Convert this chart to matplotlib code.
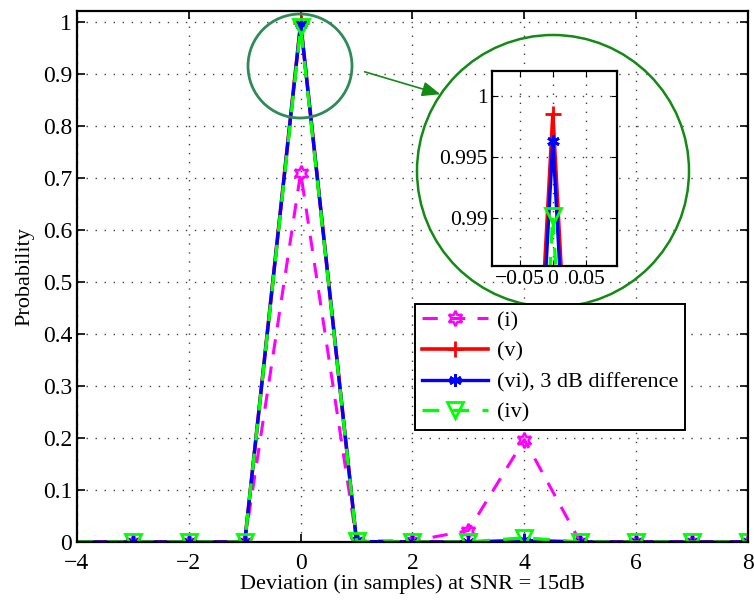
import matplotlib
matplotlib.use("Agg")
import matplotlib.pyplot as plt
from matplotlib.patches import Circle, FancyArrowPatch

plt.rcParams['font.family'] = ['Liberation Serif', 'DejaVu Serif']
plt.rcParams['mathtext.fontset'] = 'stix'

x = [-4, -3, -2, -1, 0, 1, 2, 3, 4, 5, 6, 7, 8]
p_i = [0, 0, 0, 0, 0.710, 0.002, 0.002, 0.022, 0.197, 0, 0, 0, 0]
p_v = [0, 0, 0, 0, 0.9985, 0.0005, 0, 0, 0.002, 0, 0, 0, 0]
p_vi = [0, 0, 0, 0, 0.9963, 0.001, 0, 0, 0.003, 0, 0, 0, 0]
p_iv = [0, 0, 0, 0, 0.9902, 0.001, 0, 0, 0.008, 0, 0, 0, 0]
labels = ['(i)', '(v)', '(vi), 3 dB difference', '(iv)']

xticks = [-4, -2, 0, 2, 4, 6, 8]
yticks = [0, 0.1, 0.2, 0.3, 0.4, 0.5, 0.6, 0.7, 0.8, 0.9, 1]
ytick_labels = ['0', '0.1', '0.2', '0.3', '0.4', '0.5', '0.6', '0.7', '0.8', '0.9', '1']
in_xticks = [-0.05, 0, 0.05]
in_xtick_labels = ['\u22120.05', '0', '0.05']
in_yticks = [0.99, 0.995, 1]
in_ytick_labels = ['0.99', '0.995', '1']

W, H = 754, 602
fig = plt.figure(figsize=(W / 100, H / 100), dpi=100)
ax = fig.add_axes([77 / W, 1 - 542 / H, (748 - 77) / W, (542 - 11) / H])

mk = slice(1, None)
styles = [
    dict(color='#ff00ff', ls=(0, (5, 4)), lw=2.2, marker=(6, 1, 0), ms=11, mfc='none', mew=1.8),
    dict(color='#ff0000', ls='-', lw=2.6, marker='+', ms=11, mew=2),
    dict(color='#0000ff', ls='-', lw=2.4, marker=(6, 2, 0), ms=9, mew=2),
    dict(color='#00ff00', ls=(0, (5, 4)), lw=2.4, marker='v', ms=11, mfc='none', mew=2),
]
series = [p_i, p_v, p_vi, p_iv]
for ys, st, lab in zip(series, styles, labels):
    ax.plot(x, ys, label=lab, markevery=mk, **st)

ax.set_xlim(-4, 8)
ax.set_ylim(0, 1.021)
ax.set_xticks(xticks)
ax.set_yticks(yticks)
ax.set_yticklabels(ytick_labels)
ax.tick_params(direction='in', top=True, right=True, labelsize=17, length=6, width=1.2)
ax.tick_params(axis='x', pad=8)
ax.grid(True, color='#444444', ls=(0, (1, 5.5)), lw=1)
for s in ax.spines.values():
    s.set_linewidth(1.6)
ax.set_xlabel('Deviation (in samples) at SNR = 15dB', fontsize=16, labelpad=0)
ax.set_ylabel('Probability', fontsize=16, labelpad=6)

leg = ax.legend(loc='upper left', bbox_to_anchor=((415 - 77) / 671, (542 - 304) / 531),
                fontsize=16, frameon=True, fancybox=False, framealpha=1,
                edgecolor='black', handlelength=3.0, borderpad=0.3, labelspacing=0.45,
                handletextpad=0.4, borderaxespad=0)
leg.get_frame().set_linewidth(1.4)

# small circle around peak
ax.add_patch(Circle((300, H - 66), 52, transform=None, fill=False,
                    edgecolor='#2e8b57', lw=2, zorder=5))
# big circle
ax.add_patch(Circle((553, H - 171), 136, transform=None, fill=False,
                    edgecolor='#138a13', lw=1.8, zorder=5))
arr = FancyArrowPatch((362, H - 71), (443, H - 95), transform=None,
                      arrowstyle='-|>,head_length=11,head_width=4.5', color='#138a13',
                      lw=1.2, zorder=5)
ax.add_patch(arr)

# inset
ins = fig.add_axes([492 / W, 1 - 266 / H, (617 - 492) / W, (266 - 71) / H])
for ys, st in zip(series, styles):
    ins.plot(x, ys, **st)
ins.set_xlim(-0.092, 0.097)
ins.set_ylim(0.9861, 1.002)
ins.set_xticks(in_xticks)
ins.set_xticklabels(in_xtick_labels)
ins.set_yticks(in_yticks)
ins.set_yticklabels(in_ytick_labels)
ins.tick_params(direction='in', top=True, right=True, labelsize=15.5, length=4, pad=3)
ins.grid(True, color='#444444', ls=(0, (1, 5.5)), lw=1)
for s in ins.spines.values():
    s.set_linewidth(1.6)

fig.savefig('out.png', dpi=100)
